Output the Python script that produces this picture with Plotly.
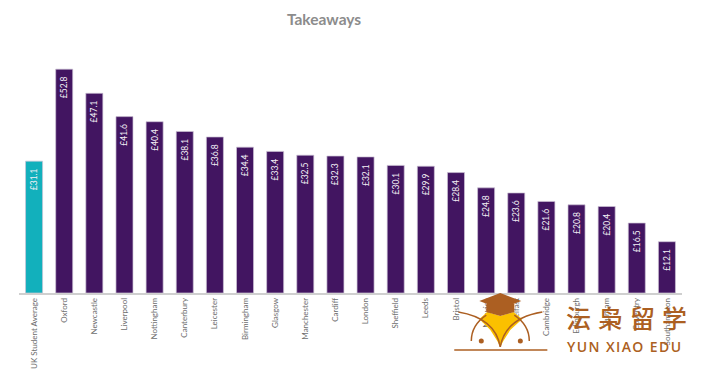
import plotly.graph_objects as go

categories = ["UK Student Average", "Oxford", "Newcastle", "Liverpool", "Nottingham", "Canterbury",
              "Leicester", "Birmingham", "Glasgow", "Manchester", "Cardiff", "London", "Sheffield",
              "Leeds", "Bristol", "Norwich", "Belfast", "Cambridge", "Edinburgh", "Durham",
              "Coventry", "Southampton"]
values = [31.1, 52.8, 47.1, 41.6, 40.4, 38.1, 36.8, 34.4, 33.4, 32.5, 32.3, 32.1, 30.1, 29.9,
          28.4, 24.8, 23.6, 21.6, 20.8, 20.4, 16.5, 12.1]
bar_colors = ["#12B0BC"] + ["#421561"] * 21
value_labels = [f"£{v:.1f}\u00a0\u00a0" for v in values]

BROWN = "#AC5F22"
GOLD = "#FBC000"
OFF = 8  # the page has an 8px body margin
LEFT, RIGHT = 18.95, 681.6

fig = go.Figure(go.Bar(
    x=categories, y=values,
    marker=dict(color=bar_colors, line=dict(color="#CDC3D6", width=0.7)),
    text=value_labels, textposition="inside", insidetextanchor="end", textangle=-90,
    textfont=dict(family="Lato", size=8.5, color="#F4F0F6"),
    cliponaxis=False,
))

px = dict(xref="paper", yref="paper")
def X(p): return (p - LEFT) / (RIGHT - LEFT)
def Y(p): return (293 - p) / (293 - 40)

def path(points, close=False):
    s = "M " + " L ".join(f"{X(a):.4f} {Y(b):.4f}" for a, b in points)
    return s + (" Z" if close else "")

def curve(a, c, b):
    return f"M {X(a[0]):.4f} {Y(a[1]):.4f} Q {X(c[0]):.4f} {Y(c[1]):.4f} {X(b[0]):.4f} {Y(b[1]):.4f}"

shapes = [
    dict(type="path", **px, fillcolor=GOLD, line=dict(width=0),
         path=path([(479, 319), (487, 312), (500, 316), (513, 312), (522, 319), (510, 330), (503, 341), (500, 347), (497, 341), (490, 330)], True)),
    dict(type="path", **px, fillcolor=BROWN, line=dict(width=0),
         path=path([(479, 301), (500, 293), (521, 301), (500, 309)], True)),
    dict(type="path", **px, fillcolor=BROWN, line=dict(width=0),
         path=path([(486, 304), (514, 304), (514, 312), (500, 316), (486, 312)], True)),
    dict(type="path", **px, path=curve((458, 312), (495, 318), (500, 347)), line=dict(color=BROWN, width=1.5)),
    dict(type="path", **px, path=curve((542, 312), (505, 318), (500, 347)), line=dict(color=BROWN, width=1.5)),
    dict(type="path", **px, path=curve((471, 341), (471, 325), (486, 315)), line=dict(color=BROWN, width=1.5)),
    dict(type="path", **px, path=curve((529, 341), (529, 325), (514, 315)), line=dict(color=BROWN, width=1.5)),
    dict(type="path", **px, path=path([(454, 350), (547, 350)]), line=dict(color=BROWN, width=1.5)),
    dict(type="circle", **px, x0=X(478.5), x1=X(483.5), y0=Y(338.5), y1=Y(343.5), fillcolor=BROWN, line=dict(width=0)),
    dict(type="circle", **px, x0=X(517.5), x1=X(522.5), y0=Y(338.5), y1=Y(343.5), fillcolor=BROWN, line=dict(width=0)),
]

annotations = [
    dict(**px, x=X(cx), y=Y(317), text=ch, showarrow=False, xanchor="center", yanchor="middle",
         font=dict(family="Noto Sans CJK SC", size=25, weight=500, color=BROWN))
    for ch, cx in zip("沄枭留学", [578, 610, 642, 674])
] + [
    dict(**px, x=X(623.5), y=Y(346), text="\u200a".join("YUN XIAO EDU"), showarrow=False,
         xanchor="center", yanchor="middle",
         font=dict(family="Open Sans", size=14, weight=600, color=BROWN)),
]

fig.update_layout(
    width=703 - OFF, height=383 - OFF,
    margin=dict(l=LEFT - OFF, r=703 - RIGHT, t=40 - OFF, b=90),
    paper_bgcolor="white", plot_bgcolor="white", showlegend=False, bargap=0.435,
    title=dict(text="<b>Takeaways</b>", x=(324 - OFF) / (703 - OFF), xanchor="center",
               y=1 - (20 - OFF) / (383 - OFF), yanchor="middle",
               font=dict(family="Lato", size=15.5, color="#8C8C8C")),
    xaxis=dict(type="category", categoryorder="array", categoryarray=categories, tickangle=-90,
               tickfont=dict(family="Lato", size=8, color="#6E6E6E"), ticks="", showgrid=False,
               showline=True, linecolor="#CFCFCF", linewidth=1.5, range=[-0.5, 21.5]),
    yaxis=dict(visible=False, range=[0, 59.67], showgrid=False, zeroline=False),
    shapes=shapes, annotations=annotations,
)

fig.write_html("out.html", config=dict(displayModeBar=False))
